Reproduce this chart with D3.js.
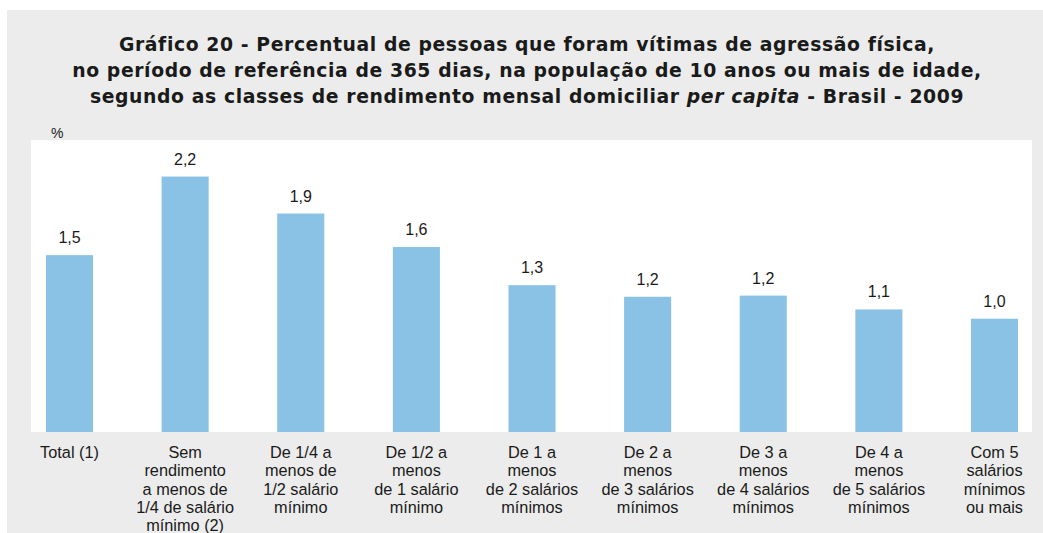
<!DOCTYPE html>
<html>
<head>
<meta charset="utf-8">
<script src="https://cdn.jsdelivr.net/npm/d3@7"></script>
<style>
  html, body { margin: 0; padding: 0; background: #ffffff; }
  svg { display: block; }
  text { font-family: "Liberation Sans", Arial, sans-serif; fill: #1a1a1a; }
</style>
</head>
<body>
<svg id="chart" width="1043" height="533"></svg>
<script>
// ---- Data ----
const categories = [
  "Total (1)",
  "Sem|rendimento|a menos de|1/4 de salário|mínimo (2)",
  "De 1/4 a|menos de|1/2 salário|mínimo",
  "De 1/2 a|menos|de 1 salário|mínimo",
  "De 1 a|menos|de 2 salários|mínimos",
  "De 2 a|menos|de 3 salários|mínimos",
  "De 3 a|menos|de 4 salários|mínimos",
  "De 4 a|menos|de 5 salários|mínimos",
  "Com 5|salários|mínimos|ou mais"
];
const values = [1.53, 2.21, 1.89, 1.60, 1.27, 1.17, 1.18, 1.06, 0.98];
const yDomain = [0, 2.5];
const unitLabel = "%";
const titleLines = [
  [{t: "Gráfico 20 - Percentual de pessoas que foram vítimas de agressão física,"}],
  [{t: "no período de referência de 365 dias, na população de 10 anos ou mais de idade,"}],
  [{t: "segundo as classes de rendimento mensal domiciliar "}, {t: "per capita", i: true}, {t: " - Brasil - 2009"}]
];

// ---- Layout ----
const svg = d3.select("#chart");
const W = 1043, H = 533;
const bg = {x: 7, y: 10, w: W - 7, h: H - 10};
const plot = {x0: 31, x1: 1032, y0: 140, y1: 432};

svg.append("rect").attr("x", bg.x).attr("y", bg.y).attr("width", bg.w).attr("height", bg.h)
  .attr("fill", "#ebeceb");
svg.append("rect").attr("x", plot.x0).attr("y", plot.y0)
  .attr("width", plot.x1 - plot.x0).attr("height", plot.y1 - plot.y0).attr("fill", "#ffffff");

// Title
const title = svg.append("text").attr("text-anchor", "middle")
  .style("font-family", "'DejaVu Sans', sans-serif")
  .style("font-weight", "bold").style("font-size", "18.8px")
  .style("letter-spacing", "0.6px");
titleLines.forEach((line, li) => {
  const tl = title.append("tspan").attr("x", 527).attr("y", 51 + li * 26);
  line.forEach(seg => {
    tl.append("tspan").text(seg.t).style("font-style", seg.i ? "italic" : "normal");
  });
});

// Unit label
svg.append("text").attr("x", 51).attr("y", 138).style("font-size", "14px").text(unitLabel);

// Scales
const x = d3.scaleBand().domain(categories).range([11.7, 1052.3])
  .paddingInner(0.593).paddingOuter(0.2965);
const y = d3.scaleLinear().domain(yDomain).range([plot.y1, plot.y1 - 115.6 * yDomain[1]]);

// Bars
svg.append("g").selectAll("rect").data(values).join("rect")
  .attr("x", (d, i) => x(categories[i]))
  .attr("width", x.bandwidth())
  .attr("y", d => y(d))
  .attr("height", d => y(0) - y(d))
  .attr("fill", "#89c2e5");

// Value labels
const fmt = v => d3.format(".1f")(v).replace(".", ",");
svg.append("g").selectAll("text").data(values).join("text")
  .attr("x", (d, i) => x(categories[i]) + x.bandwidth() / 2)
  .attr("y", d => y(d) - 12)
  .attr("text-anchor", "middle")
  .style("font-size", "16px")
  .text(d => fmt(d));

// Category axis
const axis = d3.axisBottom(x).tickSize(0).tickPadding(0).tickFormat(() => "");
const gx = svg.append("g").attr("transform", `translate(0,${plot.y1})`).call(axis);
gx.select(".domain").remove();
gx.selectAll(".tick").each(function(c) {
  const t = d3.select(this).append("text")
    .attr("text-anchor", "middle")
    .style("font-size", "16.3px")
    .attr("fill", "#1a1a1a");
  c.split("|").forEach((ln, k) => {
    t.append("tspan").attr("x", 0).attr("y", 26 + k * 18.3).text(ln);
  });
});
</script>
</body>
</html>
